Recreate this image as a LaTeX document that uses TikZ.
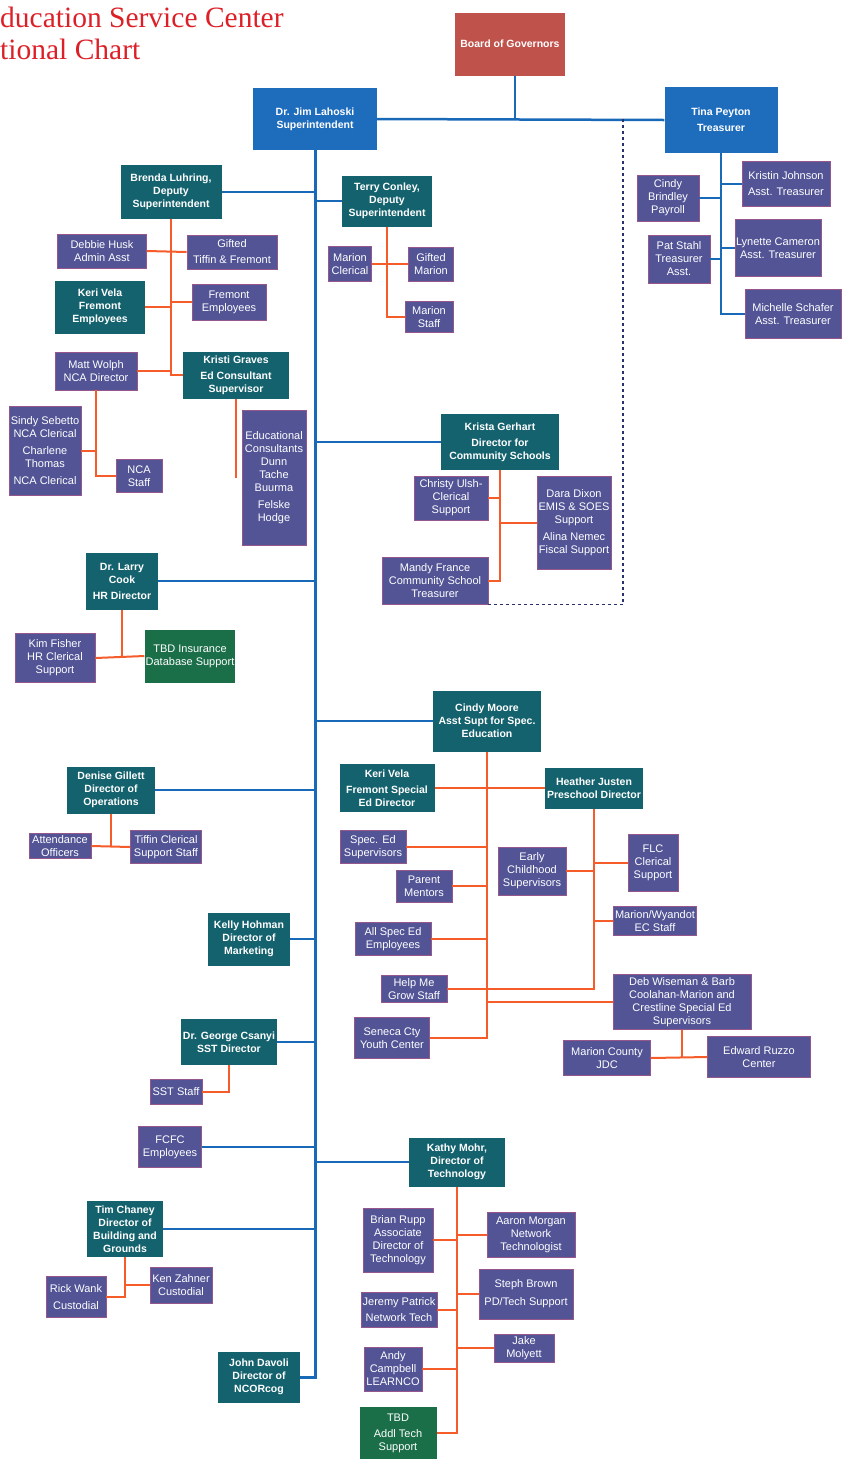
\documentclass[tikz,border=0pt]{standalone}
\usepackage{fontspec}
\setmainfont{Liberation Sans}
\newfontfamily\titlefont{Liberation Serif}
\usetikzlibrary{positioning,calc}
\definecolor{boardred}{RGB}{192,82,76}
\definecolor{supblue}{RGB}{30,108,188}
\definecolor{leadteal}{RGB}{20,98,110}
\definecolor{staffc}{RGB}{82,84,150}
\definecolor{staffedge}{RGB}{150,88,140}
\definecolor{tbdgreen}{RGB}{26,110,72}
\definecolor{linkblue}{RGB}{25,105,185}
\definecolor{linkorange}{RGB}{245,92,42}
\definecolor{dashc}{RGB}{40,50,110}
\definecolor{titlered}{RGB}{220,32,40}
\tikzset{
	orgbox/.style={text=white, align=center, inner sep=1pt, font=\fontsize{11}{13}\selectfont},
	sz/.style 2 args={minimum width=#1pt, minimum height=#2pt},
	boardbox/.style={orgbox, fill=boardred, font=\fontsize{10.5}{13}\selectfont\bfseries},
	supbox/.style={orgbox, fill=supblue, font=\fontsize{10.5}{13}\selectfont\bfseries},
	leadbox/.style={orgbox, fill=leadteal, font=\fontsize{10.5}{13}\selectfont\bfseries},
	staffbox/.style={orgbox, fill=staffc, draw=staffedge, line width=0.8pt},
	tbdbox/.style={orgbox, fill=tbdgreen},
	bluelink/.style={draw=linkblue, line width=2.5pt},
	orangelink/.style={draw=linkorange, line width=2pt},
	dashlink/.style={draw=dashc, line width=1.1pt, dash pattern=on 3pt off 3pt},
}
\begin{document}
\begin{tikzpicture}[x=1pt, y=-1pt]
		\useasboundingbox (0,0) rectangle (849,1468);
		\node[anchor=base west, inner sep=0pt, text=titlered, font=\titlefont\fontsize{29.5}{33}\selectfont] (title1) at (0,27) {ducation Service Center};
		\node[anchor=base west, inner sep=0pt, text=titlered, font=\titlefont\fontsize{29.5}{33}\selectfont] (title2) at (0,59) {tional Chart};

		\node[boardbox, sz={110}{63}] (board) at (510,44) {Board of Governors};
		\node[supbox, sz={124}{62}] (lahoski) at (315,119) {Dr. Jim Lahoski\\Superintendent};
		\node[supbox, sz={113}{66}] (tina) at (721,120) {Tina Peyton\\[3pt]Treasurer};
		\coordinate (dashtop) at (623,119);

		\node[leadbox, sz={101}{54}] (brenda) at (171,192) {Brenda Luhring,\\Deputy\\Superintendent};
		\node[leadbox, sz={90}{51}] (terry) at (387,201) {Terry Conley,\\Deputy\\Superintendent};
		\node[staffbox, sz={89}{34}] (debbie) at (102,251) {Debbie Husk\\Admin Asst};
		\node[staffbox, sz={90}{34}] (gifted) at (232,252) {Gifted\\[3pt]Tiffin \& Fremont};
		\node[leadbox, sz={90}{53}] (kerivf) at (100,307) {Keri Vela\\Fremont\\Employees};
		\node[staffbox, sz={74}{36}] (fremont) at (229,302) {Fremont\\Employees};
		\node[staffbox, sz={82}{38}] (matt) at (96,371) {Matt Wolph\\NCA Director};
		\node[leadbox, sz={106}{47}] (kristi) at (236,375) {Kristi Graves\\[3pt]Ed Consultant\\Supervisor};
		\node[staffbox, sz={72}{89}] (sindy) at (45,451) {Sindy Sebetto\\NCA Clerical\\[4pt]Charlene\\Thomas\\[4pt]NCA Clerical};
		\node[staffbox, sz={46}{33}] (ncastaff) at (139,476) {NCA\\Staff};
		\node[staffbox, sz={64}{135}] (consult) at (274,478) {Educational\\Consultants\\Dunn\\Tache\\Buurma\\[4pt]Felske\\Hodge};
		\node[staffbox, sz={43}{35}] (marioncl) at (350,264) {Marion\\Clerical};
		\node[staffbox, sz={45}{34}] (giftedmarion) at (431,264) {Gifted\\Marion};
		\node[staffbox, sz={48}{31}] (marionstaff) at (429,317) {Marion\\Staff};

		\node[staffbox, sz={88}{45}] (kristin) at (786,184) {Kristin Johnson\\[3pt]Asst. Treasurer};
		\node[staffbox, sz={62}{46}] (cindyb) at (668,198) {Cindy\\Brindley\\Payroll};
		\node[staffbox, sz={62}{48}] (pat) at (679,259) {Pat Stahl\\Treasurer\\Asst.};
		\node[staffbox, sz={86}{57}] (lynette) at (778,248) {Lynette Cameron\\Asst. Treasurer};
		\node[staffbox, sz={96}{49}] (michelle) at (793,314) {Michelle Schafer\\Asst. Treasurer};

		\node[leadbox, sz={118}{56}] (krista) at (500,442) {Krista Gerhart\\[3pt]Director for\\Community Schools};
		\node[staffbox, sz={74}{44}] (christy) at (451,498) {Christy Ulsh-\\Clerical\\Support};
		\node[staffbox, sz={106}{47}] (mandy) at (435,581) {Mandy France\\Community School\\Treasurer};
		\node[staffbox, sz={74}{93}] (dara) at (574,523) {Dara Dixon\\EMIS \& SOES\\Support\\[4pt]Alina Nemec\\Fiscal Support};

		\node[leadbox, sz={72}{57}] (larry) at (122,581) {Dr. Larry\\Cook\\[3pt]HR Director};
		\node[staffbox, sz={80}{49}] (kim) at (55,658) {Kim Fisher\\HR Clerical\\Support};
		\node[tbdbox, sz={86}{53}] (tbdins) at (190,656) {TBD Insurance\\Database Support};

		\node[leadbox, sz={108}{61}] (cindy) at (487,721) {Cindy Moore\\Asst Supt  for Spec.\\Education};
		\node[leadbox, sz={95}{48}] (keri) at (387,788) {Keri Vela\\[3pt]Fremont Special\\Ed Director};
		\node[leadbox, sz={98}{41}] (heather) at (594,788) {Heather Justen\\Preschool Director};
		\node[staffbox, sz={66}{33}] (specsup) at (373,847) {Spec. Ed\\Supervisors};
		\node[staffbox, sz={56}{32}] (parent) at (424,886) {Parent\\Mentors};
		\node[staffbox, sz={76}{33}] (allspec) at (393,939) {All Spec Ed\\Employees};
		\node[staffbox, sz={66}{27}] (helpme) at (414,989) {Help Me\\Grow Staff};
		\node[staffbox, sz={75}{41}] (seneca) at (392,1038) {Seneca Cty\\Youth Center};
		\node[staffbox, sz={68}{48}] (early) at (532,871) {Early\\Childhood\\Supervisors};
		\node[staffbox, sz={50}{57}] (flc) at (653,863) {FLC\\Clerical\\Support};
		\node[staffbox, sz={83}{29}] (wyandot) at (655,921) {Marion/Wyandot\\EC Staff};
		\node[staffbox, sz={138}{55}] (deb) at (682,1002) {Deb Wiseman \& Barb\\Coolahan-Marion and\\Crestline Special Ed\\Supervisors};
		\node[staffbox, sz={87}{35}] (jdc) at (607,1058) {Marion County\\JDC};
		\node[staffbox, sz={103}{41}] (ruzzo) at (759,1057) {Edward Ruzzo\\Center};

		\node[leadbox, sz={88}{47}] (denise) at (111,790) {Denise Gillett\\Director of\\Operations};
		\node[staffbox, sz={62}{25}] (attend) at (60,846) {Attendance\\Officers};
		\node[staffbox, sz={71}{33}] (tiffincl) at (166,847) {Tiffin Clerical\\Support Staff};
		\node[leadbox, sz={82}{53}] (kelly) at (249,939) {Kelly Hohman\\Director of\\Marketing};
		\node[leadbox, sz={96}{46}] (george) at (229,1042) {Dr. George Csanyi\\SST Director};
		\node[staffbox, sz={52}{25}] (sststaff) at (176,1092) {SST Staff};
		\node[staffbox, sz={63}{41}] (fcfc) at (170,1147) {FCFC\\Employees};

		\node[leadbox, sz={96}{49}] (kathy) at (457,1162) {Kathy Mohr,\\Director of\\Technology};
		\node[staffbox, sz={70}{64}] (brian) at (398,1240) {Brian Rupp\\Associate\\Director of\\Technology};
		\node[staffbox, sz={88}{45}] (aaron) at (531,1235) {Aaron Morgan\\Network\\Technologist};
		\node[staffbox, sz={76}{35}] (jeremy) at (399,1310) {Jeremy Patrick\\[3pt]Network Tech};
		\node[staffbox, sz={94}{50}] (steph) at (526,1294) {Steph Brown\\[5pt]PD/Tech Support};
		\node[staffbox, sz={60}{28}] (jake) at (524,1348) {Jake\\Molyett};
		\node[staffbox, sz={58}{44}] (andy) at (393,1369) {Andy\\Campbell\\LEARNCO};
		\node[tbdbox, sz={77}{52}] (tbdtech) at (398,1433) {TBD\\[3pt]Addl Tech\\Support};

		\node[leadbox, sz={76}{56}] (tim) at (125,1229) {Tim Chaney\\Director of\\Building and\\Grounds};
		\node[staffbox, sz={60}{41}] (rick) at (76,1297) {Rick Wank\\[4pt]Custodial};
		\node[staffbox, sz={62}{36}] (ken) at (181,1285) {Ken Zahner\\Custodial};
		\node[leadbox, sz={82}{51}] (davoli) at (259,1377) {John Davoli\\Director of\\NCORcog};

		\draw[bluelink] ([xshift=5pt]board.south) -- ([xshift=5pt]board.south |- lahoski.east);
		\draw[bluelink] (lahoski.east) -- (tina.west);
		\draw[dashlink] (dashtop) |- (mandy.south east);
		\draw[bluelink, line width=3pt] (lahoski.south) |- (davoli.east);
		\foreach \n in {brenda, larry, denise, kelly, george, fcfc, tim}
			\draw[bluelink] (\n.east) -- (\n.east -| lahoski.south);
		\foreach \n in {terry, krista, cindy, kathy}
			\draw[bluelink] (\n.west) -- (\n.west -| lahoski.south);

		\draw[bluelink] (tina.south) |- (michelle.west);
		\foreach \n in {cindyb, pat}
			\draw[bluelink] (\n.east) -- (\n.east -| tina.south);
		\foreach \n in {kristin, lynette}
			\draw[bluelink] (\n.west) -- (\n.west -| tina.south);

		\draw[orangelink] (brenda.south) |- (kristi.west);
		\draw[orangelink] (debbie.east) -- (gifted.west);
		\foreach \n in {kerivf, matt}
			\draw[orangelink] (\n.east) -- (\n.east -| brenda.south);
		\draw[orangelink] (fremont.west) -- (fremont.west -| brenda.south);
		\draw[orangelink] (matt.south) |- (ncastaff.west);
		\draw[orangelink] (sindy.east) -- (sindy.east -| matt.south);
		\draw[orangelink] (kristi.south) -- (kristi.south |- consult.center);
		\draw[orangelink] (terry.south) |- (marionstaff.west);
		\draw[orangelink] (marioncl.east) -- (giftedmarion.west);

		\draw[orangelink] (krista.south) |- (mandy.east);
		\draw[orangelink] (christy.east) -- (christy.east -| krista.south);
		\draw[orangelink] (dara.west) -- (dara.west -| krista.south);

		\draw[orangelink] (larry.south) -- (larry.south |- kim.east);
		\draw[orangelink] (kim.east) -- (tbdins.west);

		\draw[orangelink] (cindy.south) |- (seneca.east);
		\draw[orangelink] (keri.east) -- (heather.west);
		\foreach \n in {specsup, parent, allspec}
			\draw[orangelink] (\n.east) -- (\n.east -| cindy.south);
		\draw[orangelink] (helpme.east) -| (heather.south);
		\draw[orangelink] (deb.west) -- (deb.west -| cindy.south);
		\draw[orangelink] (early.east) -- (early.east -| heather.south);
		\foreach \n in {flc, wyandot}
			\draw[orangelink] (\n.west) -- (\n.west -| heather.south);
		\draw[orangelink] (deb.south) -- (deb.south |- jdc.east);
		\draw[orangelink] (jdc.east) -- (ruzzo.west);

		\draw[orangelink] (denise.south) -- (denise.south |- attend.east);
		\draw[orangelink] (attend.east) -- (tiffincl.west);
		\draw[orangelink] (george.south) |- (sststaff.east);

		\draw[orangelink] (kathy.south) |- (tbdtech.east);
		\foreach \n in {brian, jeremy, andy}
			\draw[orangelink] (\n.east) -- (\n.east -| kathy.south);
		\foreach \n in {aaron, steph, jake}
			\draw[orangelink] (\n.west) -- (\n.west -| kathy.south);

		\draw[orangelink] (tim.south) |- (rick.east);
		\draw[orangelink] (ken.west) -- (ken.west -| tim.south);
	\end{tikzpicture}
\end{document}
